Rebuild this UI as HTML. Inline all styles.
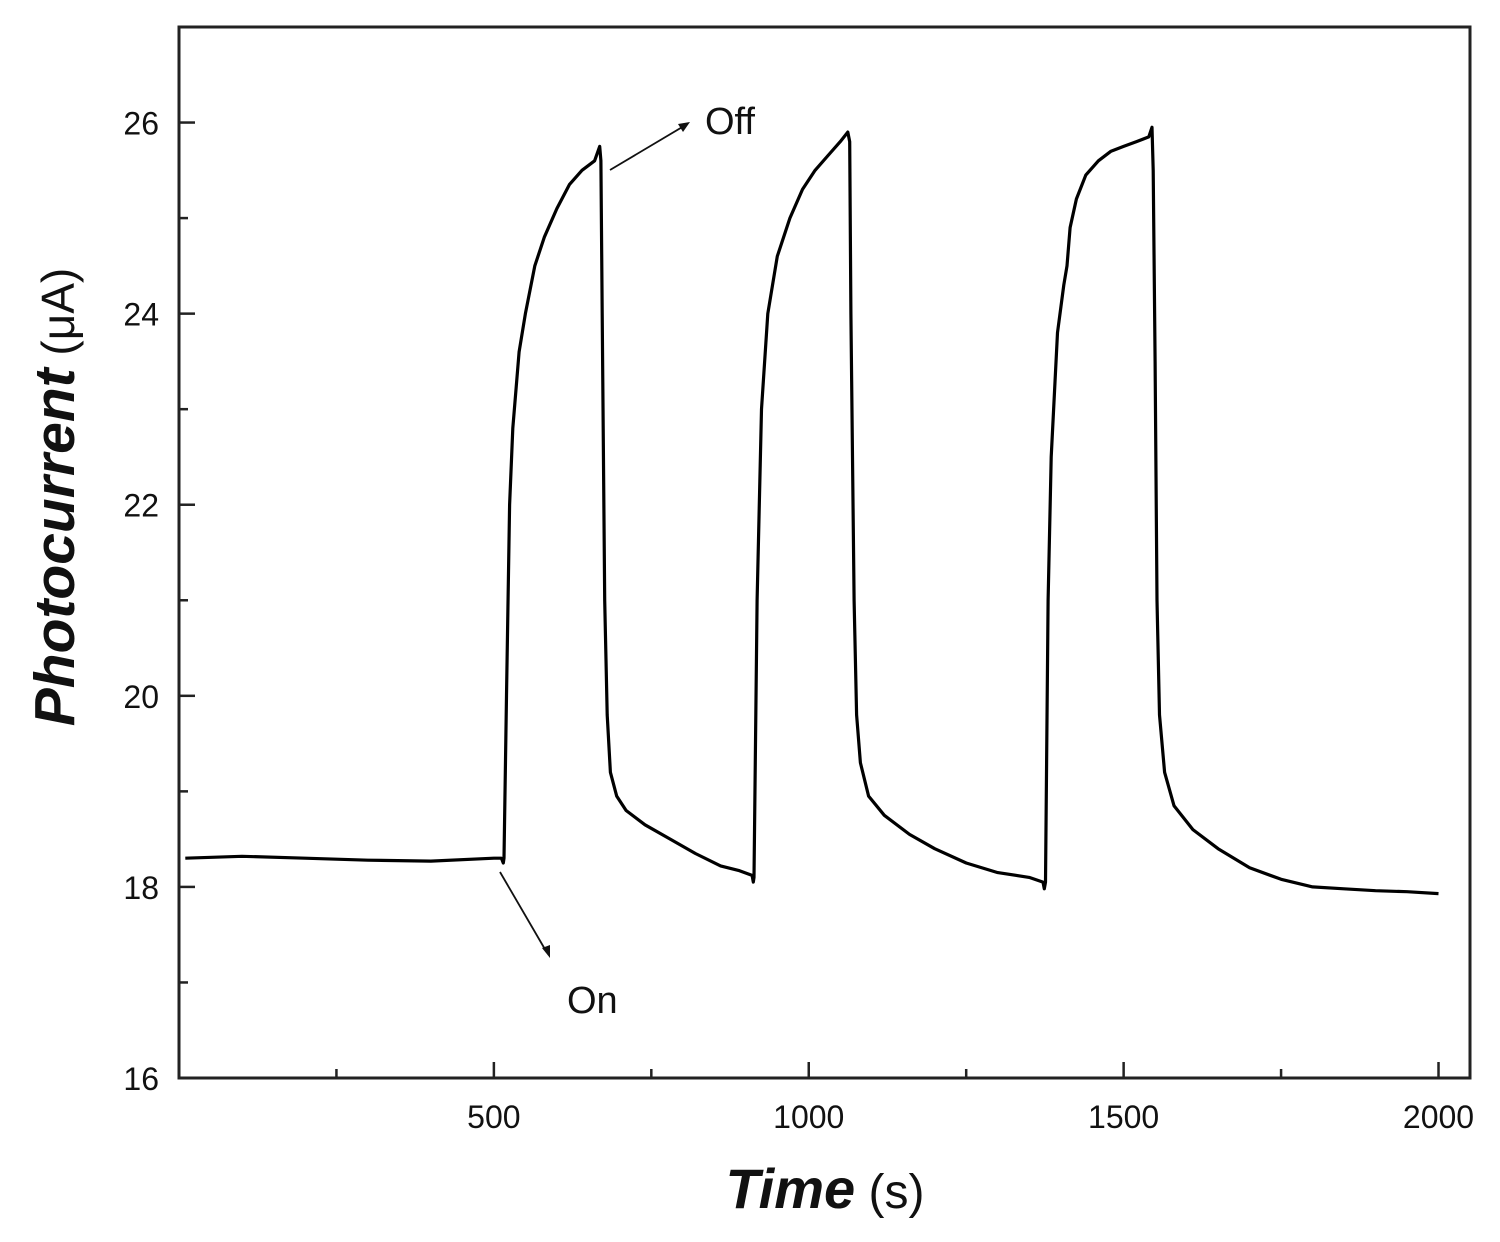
<!DOCTYPE html>
<html><head><meta charset="utf-8">
<style>
html,body{margin:0;padding:0;background:#fff;}
svg{display:block;}
text{font-family:"Liberation Sans",Arial,sans-serif;fill:#111;}
</style></head>
<body>
<svg id="chart" width="1500" height="1242" viewBox="0 0 1500 1242">
<rect x="179" y="27" width="1291" height="1051" fill="none" stroke="#222" stroke-width="3"/>
<g id="ticks"></g>
<path id="series" fill="none" stroke="#000" stroke-width="3.2" stroke-linejoin="round"/>
<g>
<line x1="610" y1="170" x2="684" y2="126" stroke="#111" stroke-width="1.8"/>
<polygon points="690,122 678,124 683,132" fill="#111"/>
<text x="705" y="134" font-size="38">Off</text>
</g>
<g>
<line x1="500" y1="872" x2="546" y2="951" stroke="#111" stroke-width="1.8"/>
<polygon points="550,958 542,948 550,945" fill="#111"/>
<text x="567" y="1013" font-size="38">On</text>
</g>
<text transform="translate(74,497) rotate(-90)" text-anchor="middle" font-size="57"><tspan font-weight="bold" font-style="italic">Photocurrent</tspan><tspan font-size="46"> (μA)</tspan></text>
<text x="825" y="1208" text-anchor="middle" font-size="56"><tspan font-weight="bold" font-style="italic">Time</tspan><tspan font-size="48"> (s)</tspan></text>
</svg>
<script>
const xTicks=[500,1000,1500,2000];
const xMinor=[250,750,1250,1750];
const yTicks=[16,18,20,22,24,26];
const yMinor=[17,19,21,23,25];
const times=[10,100,200,300,400,500,512,515,516,520,525,530,540,550,565,580,600,620,640,660,668,670,672,676,680,685,695,710,740,780,820,860,890,910,912,913,918,925,935,950,970,990,1010,1030,1050,1062,1065,1067,1072,1076,1082,1095,1120,1160,1200,1250,1300,1350,1372,1374,1376,1380,1385,1395,1405,1410,1415,1425,1440,1460,1480,1500,1520,1540,1545,1547,1550,1553,1557,1565,1580,1610,1650,1700,1750,1800,1850,1900,1950,2000];
const current=[18.3,18.32,18.3,18.28,18.27,18.3,18.3,18.25,18.3,20,22,22.8,23.6,24.0,24.5,24.8,25.1,25.35,25.5,25.6,25.75,25.6,24,21,19.8,19.2,18.95,18.8,18.65,18.5,18.35,18.22,18.17,18.12,18.05,18.1,21,23,24,24.6,25.0,25.3,25.5,25.65,25.8,25.9,25.8,24,21,19.8,19.3,18.95,18.75,18.55,18.4,18.25,18.15,18.1,18.05,17.98,18.05,21,22.5,23.8,24.3,24.5,24.9,25.2,25.45,25.6,25.7,25.75,25.8,25.85,25.95,25.5,23.5,21,19.8,19.2,18.85,18.6,18.4,18.2,18.08,18.0,17.98,17.96,17.95,17.93];
const X0=179,X1=1470,Y0=1078,Y1=27,XMIN=0,XMAX=2050,YMIN=16,YMAX=27;
function sx(v){return X0+(v-XMIN)/(XMAX-XMIN)*(X1-X0);}
function sy(v){return Y0-(v-YMIN)/(YMAX-YMIN)*(Y0-Y1);}
const NS="http://www.w3.org/2000/svg";
const g=document.getElementById('ticks');
function line(x1,y1,x2,y2,name){const l=document.createElementNS(NS,'line');l.setAttribute('x1',x1);l.setAttribute('y1',y1);l.setAttribute('x2',x2);l.setAttribute('y2',y2);l.setAttribute('stroke','#222');l.setAttribute('stroke-width','2.5');


g.appendChild(l);}
function label(x,y,t,anchor,name){const e=document.createElementNS(NS,'text');e.setAttribute('x',x);e.setAttribute('y',y);e.setAttribute('text-anchor',anchor);e.setAttribute('font-size','32');e.textContent=t;


g.appendChild(e);}
xTicks.forEach(v=>{line(sx(v),Y0,sx(v),Y0-16,'x-tick');label(sx(v),Y0+50,String(v),'middle','x-tick-label');});
xMinor.forEach(v=>{line(sx(v),Y0,sx(v),Y0-9,'x-minor-tick');});
yTicks.forEach(v=>{line(X0,sy(v),X0+16,sy(v),'y-tick');label(X0-20,sy(v)+12,String(v),'end','y-tick-label');});
yMinor.forEach(v=>{line(X0,sy(v),X0+9,sy(v),'y-minor-tick');});
let d='';
times.forEach((t,i)=>{d+=(i?'L':'M')+sx(t).toFixed(1)+','+sy(current[i]).toFixed(1);});
document.getElementById('series').setAttribute('d',d);
</script>
</body></html>
